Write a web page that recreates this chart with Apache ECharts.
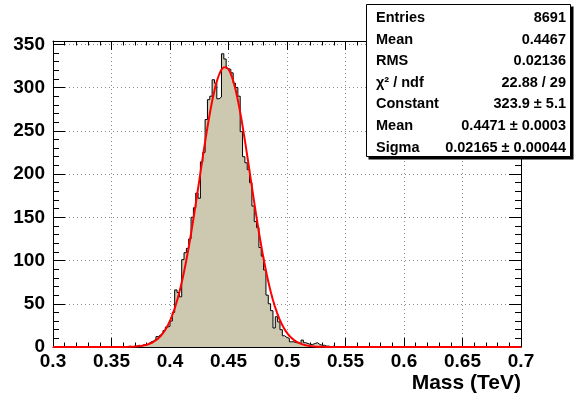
<!DOCTYPE html>
<html><head><meta charset="utf-8">
<script src="https://cdn.jsdelivr.net/npm/echarts@6/dist/echarts.min.js"></script>
<style>html,body{margin:0;padding:0;background:#fff}#c{width:576px;height:397px}</style>
</head><body><div id="c"></div>
<script>
// Histogram definition (200 bins from 0.3 to 0.7)
const histMin = 0.3;
const histMax = 0.7;
const nBins = 200;
// counts for bins starting at index firstListedBin; all other bins are empty
const firstListedBin = 30;
const binCounts = [
  0, 0, 1, 0, 1, 1, 2, 1, 3, 2,
  4, 6, 7, 9, 12, 14, 16, 19, 23, 24,
  30, 40, 66, 63, 58, 101, 109, 114, 125, 150,
  161, 178, 172, 214, 225, 263, 286, 290, 309, 305,
  287, 289, 339, 333, 322, 321, 317, 305, 300, 290,
  249, 220, 213, 205, 190, 163, 145, 138, 115, 105,
  89, 60, 50, 42, 22, 35, 29, 20, 13, 11,
  10, 6, 6, 5, 5, 4, 8, 5, 4, 3,
  3, 4, 5, 3, 2, 2, 1, 1, 0, 1
];
// Gaussian fit parameters (from the stats box)
const fitConstant = 323.9;
const fitMean = 0.4471;
const fitSigma = 0.02165;
// Axis ticks
const xTickValues = [0.3, 0.35, 0.4, 0.45, 0.5, 0.55, 0.6, 0.65, 0.7];
const yTickValues = [0, 50, 100, 150, 200, 250, 300, 350];
const yMax = 353.8;
const xTitle = 'Mass (TeV)';
// Stats box
const statsLabels = ['Entries', 'Mean', 'RMS', 'χ² / ndf', 'Constant', 'Mean', 'Sigma'];
const statsValues = ['8691', '0.4467', '0.02136', '22.88 / 29', '323.9 ± 5.1', '0.4471 ± 0.0003', '0.02165 ± 0.00044'];

const FONT = '"Liberation Sans", Arial, Helvetica, sans-serif';
const binWidth = (histMax - histMin) / nBins;
const counts = new Array(nBins).fill(0);
binCounts.forEach((c, i) => { counts[firstListedBin + i] = c; });
const histData = counts.map((c, k) => [histMin + k * binWidth, c]);
histData.push([histMax, counts[nBins - 1]]);

const fitData = [];
const nFit = 800;
for (let i = 0; i <= nFit; i++) {
  const x = histMin + (histMax - histMin) * i / nFit;
  const d = (x - fitMean) / fitSigma;
  fitData.push([x, fitConstant * Math.exp(-0.5 * d * d)]);
}

const chart = echarts.init(document.getElementById('c'), null, {renderer: 'canvas'});
const tickStyle = {color: '#000', width: 1};
const gridStyle = {color: '#8a8a8a', type: [1, 3], width: 1};
const statsGraphics = [
  {type: 'rect', shape: {x: 368.5, y: 6.5, width: 205, height: 153}, style: {fill: '#000'}, z: 100},
  {type: 'rect', shape: {x: 366.5, y: 4.5, width: 204, height: 152}, style: {fill: '#fff', stroke: '#000', lineWidth: 1}, z: 101}
];
statsLabels.forEach((lab, i) => {
  const y = 18 + i * 21.6;
  statsGraphics.push({type: 'text', x: 376, y: y, z: 102,
    style: {text: lab, font: 'bold 14.5px ' + FONT, fill: '#000', textAlign: 'left', textVerticalAlign: 'middle', align: 'left', verticalAlign: 'middle'}});
  statsGraphics.push({type: 'text', x: 566, y: y, z: 102,
    style: {text: statsValues[i], font: 'bold 14.5px ' + FONT, fill: '#000', textAlign: 'right', textVerticalAlign: 'middle', align: 'right', verticalAlign: 'middle'}});
});
statsGraphics.push({type: 'text', x: 521, y: 383, z: 102,
  style: {text: xTitle, font: 'bold 21px ' + FONT, fill: '#000', textAlign: 'right', textVerticalAlign: 'middle', align: 'right', verticalAlign: 'middle'}});

const xCommon = {
  type: 'value', min: histMin, max: histMax, interval: 0.05,
  axisLine: {show: true, onZero: false, lineStyle: {color: '#000', width: 1}},
  axisTick: {show: true, inside: true, length: 9, lineStyle: tickStyle},
  minorTick: {show: true, splitNumber: 5, length: 4.5, lineStyle: tickStyle},
};
const yCommon = {
  type: 'value', min: 0, max: yMax, interval: 50,
  axisLine: {show: true, onZero: false, lineStyle: {color: '#000', width: 1}},
  axisTick: {show: true, inside: true, length: 12, lineStyle: tickStyle},
  minorTick: {show: true, splitNumber: 5, length: 6, lineStyle: tickStyle},
};

chart.setOption({
  animation: false,
  backgroundColor: '#fff',
  grid: {left: 53, right: 55, top: 41, bottom: 50, containLabel: false},
  xAxis: [
    Object.assign({}, xCommon, {
      position: 'bottom',
      axisLabel: {show: true, margin: 5, color: '#000', fontSize: 19, fontWeight: 'bold', fontFamily: FONT,
        formatter: v => { const r = Math.round(v * 100) / 100; return xTickValues.some(t => Math.abs(t - r) < 1e-9) ? String(r) : ''; }},
      splitLine: {show: true, lineStyle: gridStyle}
    }),
    Object.assign({}, xCommon, {position: 'top', axisLabel: {show: false}, splitLine: {show: false}})
  ],
  yAxis: [
    Object.assign({}, yCommon, {
      position: 'left',
      axisLabel: {show: true, margin: 8, color: '#000', fontSize: 19, fontWeight: 'bold', fontFamily: FONT,
        formatter: v => yTickValues.indexOf(Math.round(v)) >= 0 && Math.abs(v - Math.round(v)) < 1e-6 ? String(Math.round(v)) : ''},
      splitLine: {show: true, lineStyle: gridStyle}
    }),
    Object.assign({}, yCommon, {position: 'right', axisLabel: {show: false}, splitLine: {show: false}})
  ],
  series: [
    {type: 'line', xAxisIndex: 0, yAxisIndex: 0, data: histData, step: 'end', symbol: 'none',
      lineStyle: {color: '#000', width: 1}, areaStyle: {color: '#cdc9b1', opacity: 1, origin: 'start'}, z: 2, silent: true},
    {type: 'line', xAxisIndex: 0, yAxisIndex: 0, data: fitData, symbol: 'none', smooth: false,
      lineStyle: {color: '#ff0000', width: 2}, z: 3, silent: true}
  ],
  graphic: statsGraphics
});
</script>
</body></html>
